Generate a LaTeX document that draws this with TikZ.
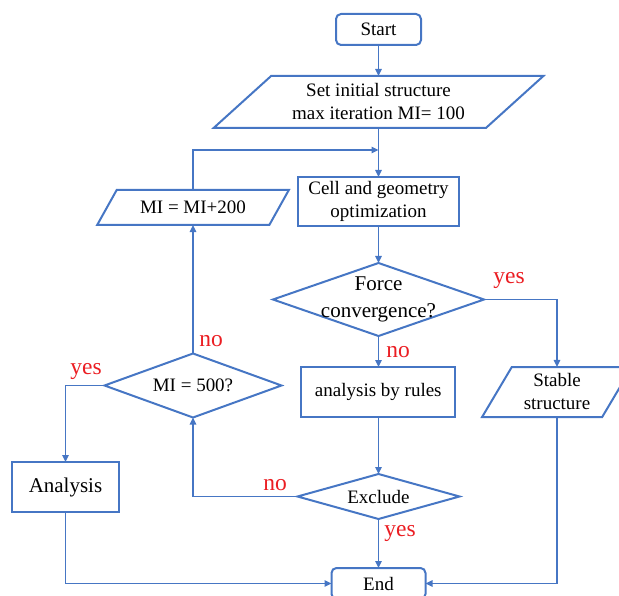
\documentclass[tikz,border=0pt]{standalone}
\usepackage{fontspec}
\setmainfont{Liberation Serif}
\usetikzlibrary{shapes.geometric,arrows.meta}
\definecolor{fblue}{RGB}{70,118,196}
\definecolor{fred}{RGB}{235,30,35}
\begin{document}
\begin{tikzpicture}[x=1pt,y=-1pt,
  base/.style={draw=fblue, line width=2pt, text=black, font=\fontsize{19}{23}\selectfont, align=center, inner sep=0pt, outer sep=0pt},
  proc/.style={base, rectangle},
  term/.style={base, rectangle, rounded corners=5pt},
  io/.style={base, trapezium, trapezium stretches=true},
  dec/.style={base, diamond},
  dtext/.style={font=\fontsize{19}{23}\selectfont, align=center, inner sep=0pt, text=black},
  conn/.style={draw=fblue, line width=1.4pt, -{Triangle[length=7pt,width=6.5pt]}},
  lab/.style={text=fred, font=\fontsize{23.5}{26}\selectfont, inner sep=0pt}
]
\useasboundingbox (0,0) rectangle (619,596);

% main column
\node[term, minimum width=85pt, minimum height=31pt] (start) at (378.5,29.5) {Start};
\node[io, minimum width=330pt, minimum height=52pt, trapezium left angle=38.2, trapezium right angle=141.8] (init) at (378.5,102) {Set initial structure\\max iteration MI= 100};
\node[proc, minimum width=161pt, minimum height=49pt] (cell) at (378.5,201.5) {Cell and geometry\\optimization};
\node[dec, minimum width=211pt, minimum height=73pt, label={[dtext, font=\fontsize{21}{27}\selectfont]center:Force\\convergence?}] (force) at (378.5,299.5) {};
\node[proc, minimum width=154pt, minimum height=50pt] (rules) at (378.3,392) {analysis by rules};
\node[dec, minimum width=162pt, minimum height=45pt, label={[dtext]center:Exclude}] (exclude) at (378.5,496.5) {};
\node[term, minimum width=94pt, minimum height=31pt] (end) at (378.5,583.5) {End};

% right
\node[io, minimum width=150pt, minimum height=50pt, trapezium left angle=59, trapezium right angle=121] (stable) at (557,392) {Stable\\structure};

% left
\node[io, minimum width=192pt, minimum height=35pt, trapezium left angle=43.4, trapezium right angle=136.6] (mi200) at (193,207.5) {MI = MI+200};
\node[dec, minimum width=177pt, minimum height=64pt, label={[dtext]center:MI = 500?}] (mi500) at (193,385.5) {};
\node[proc, minimum width=107pt, minimum height=50pt, font=\fontsize{21}{25}\selectfont] (analysis) at (65.5,487) {Analysis};

\coordinate (join) at (378.5,150);

% connectors
\draw[conn] (start.south) -- (start.south |- init.north);
\draw[conn] (init.center |- init.south) -- (cell.north);
\draw[conn] (mi200.center |- mi200.north) |- (join);
\draw[conn] (cell.south) -- (force.north);
\draw[conn] (force.east) -| (stable.center |- stable.north);
\draw[conn] (force.south) -- (force.south |- rules.north);
\draw[conn] (force.south |- rules.south) -- (exclude.north);
\draw[conn] (exclude.south) -- (end.north);
\draw[conn] (exclude.west) -| (mi500.south);
\draw[conn] (mi500.north) -- (mi500.north |- mi200.south);
\draw[conn] (mi500.west) -| (analysis.north);
\draw[conn] (analysis.south) |- (end.west);
\draw[conn] (stable.center |- stable.south) |- (end.east);

% labels
\node[lab] (l1) at (509,280) {yes};
\node[lab] (l2) at (398,352) {no};
\node[lab] (l3) at (211,341) {no};
\node[lab] (l4) at (86,371) {yes};
\node[lab] (l5) at (275,485) {no};
\node[lab] (l6) at (400,533) {yes};
\end{tikzpicture}
\end{document}
